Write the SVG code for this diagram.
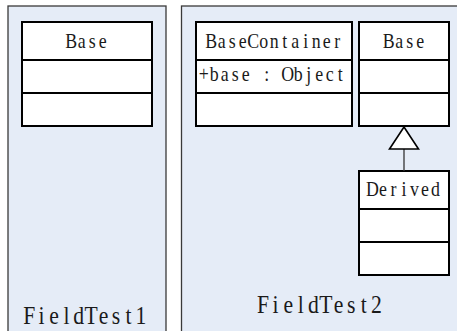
<svg xmlns="http://www.w3.org/2000/svg" width="457" height="331" viewBox="0 0 457 331">
<defs>
<style>
.pkg{fill:#E5ECF7;stroke:#3a3a3a;stroke-width:1.3}
.cls{fill:#fff;stroke:#000;stroke-width:2}
.sep{stroke:#000;stroke-width:2}
.t{font-family:"Liberation Serif","DejaVu Serif",serif;font-size:21px;fill:#1a1a1a;text-anchor:middle}
.pt{font-family:"Liberation Serif","DejaVu Serif",serif;font-size:25.5px;fill:#1a1a1a;text-anchor:middle}
.con{stroke:#333;stroke-width:1.3;fill:none}
</style>
</defs>
<rect width="457" height="331" fill="#fff"/>
<g id="FieldTest1">
<rect class="pkg" x="8" y="6" width="158" height="340"/>
<text class="pt" transform="scale(0.85 1)" x="34.35 48.94 63.53 78.12 92.71 107.29 121.88 136.47 151.06 165.65" y="324.5">FieldTest1</text>
</g>
<g id="FieldTest2">
<rect class="pkg" x="181.5" y="6" width="300" height="340"/>
<text class="pt" transform="scale(0.85 1)" x="309.41 324.24 339.06 353.88 368.71 383.53 398.35 413.18 428.00 442.82" y="313">FieldTest2</text>
</g>
<g id="Base1">
<rect class="cls" x="22" y="22" width="130" height="104"/>
<line class="sep" x1="22" y1="60" x2="152" y2="60"/>
<line class="sep" x1="22" y1="93" x2="152" y2="93"/>
<text class="t" transform="scale(0.85 1)" x="83.82 96.18 108.53 120.88" y="48.5">Base</text>
</g>
<g id="BaseContainer">
<rect class="cls" x="196" y="22" width="156" height="104"/>
<line class="sep" x1="196" y1="60" x2="352" y2="60"/>
<line class="sep" x1="196" y1="93" x2="352" y2="93"/>
<text class="t" transform="scale(0.85 1)" x="248.53 260.88 273.24 285.59 297.94 310.29 322.65 335.00 347.35 359.71 372.06 384.41 396.77" y="48.5">BaseContainer</text>
<text class="t" transform="scale(0.85 1)" x="239.71 252.06 264.41 276.76 289.12 301.47 313.82 326.18 338.53 350.88 363.24 375.59 387.94 400.29" y="81" xml:space="preserve">+base : Object</text>
</g>
<g id="Base2">
<rect class="cls" x="359" y="22" width="90" height="104"/>
<line class="sep" x1="359" y1="60" x2="449" y2="60"/>
<line class="sep" x1="359" y1="93" x2="449" y2="93"/>
<text class="t" transform="scale(0.85 1)" x="457.35 469.71 482.06 494.41" y="48.5">Base</text>
</g>
<g id="Derived">
<rect class="cls" x="359" y="171" width="90" height="104"/>
<line class="sep" x1="359" y1="209" x2="449" y2="209"/>
<line class="sep" x1="359" y1="242" x2="449" y2="242"/>
<text class="t" transform="scale(0.85 1)" x="438.24 450.59 462.94 475.29 487.65 500.00 512.35" y="196.5">Derived</text>
</g>
<g id="connectors">
<line class="con" x1="404" y1="149" x2="404" y2="171"/>
<polygon points="404,127 389.5,149 418.5,149" fill="#fff" stroke="#000" stroke-width="1.6"/>
</g>
</svg>
